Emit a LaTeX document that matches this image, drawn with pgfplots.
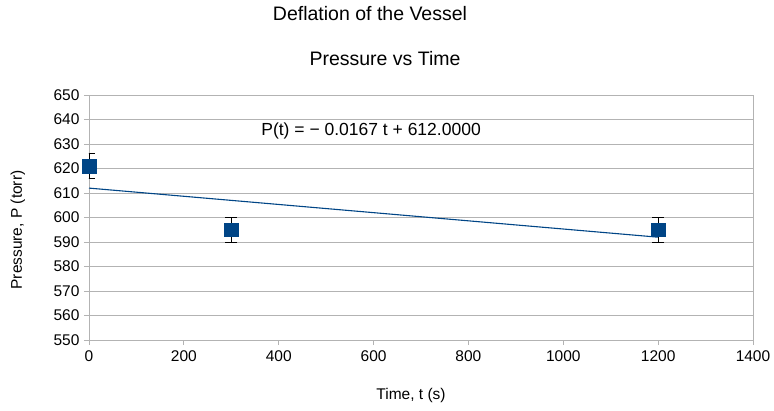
\documentclass[border=0pt]{standalone}
\usepackage{pgfplots}
\pgfplotsset{compat=1.18}
\usepackage{fontspec}
\setmainfont{Liberation Sans}
\definecolor{lobase}{HTML}{004586}
\definecolor{grd}{HTML}{B3B3B3}
\pgfplotstableread{
t    p    e
0    621  5
300  595  5
1200 595  5
}\pdata
\begin{document}
\begin{tikzpicture}
\useasboundingbox (-89pt,-70pt) rectangle (685pt,340pt);
\begin{axis}[
    scale only axis,
    width=664pt,
    height=245pt,
    xmin=0, xmax=1400,
    ymin=550, ymax=650,
    xtick distance=200,
    ytick distance=10,
    ymajorgrids,
    grid style={grd, line width=0.8pt},
    axis line style={grd, line width=0.8pt},
    tick style={grd, line width=0.8pt},
    tick align=outside,
    major tick length=5pt,
    xtick pos=bottom, ytick pos=left,
    xticklabel={\pgfmathprintnumber[assume math mode=true,1000 sep={}]{\tick}},
    yticklabel={\pgfmathprintnumber[assume math mode=true]{\tick}},
    yticklabel style={font=\fontsize{15.5}{17}\selectfont, xshift=-1pt},
    xticklabel style={font=\fontsize{15.5}{17}\selectfont, yshift=-2pt},
    xlabel={Time, t (s)},
    ylabel={Pressure, P (torr)},
    label style={font=\fontsize{15.5}{17}\selectfont},
    xlabel style={at={(axis description cs:0.485,0)}, anchor=center, yshift=-55pt},
    ylabel style={at={(axis description cs:-0.107,0.449)}, anchor=center},
]
% linear trend line
\addplot[lobase, line width=1.1pt] coordinates {(0,612.0) (1200,591.96)};
% measured pressures
\addplot[only marks, mark=square*, mark size=6.8pt,
         mark options={fill=lobase, draw=lobase}] table[x=t, y=p] {\pdata};
% +-5 torr error bars, drawn over the markers
\addplot[draw=none, mark=none,
         error bars/.cd, y dir=both, y explicit,
         error bar style={draw=black, line width=0.9pt},
         error mark options={rotate=90, mark size=6pt, draw=black, line width=0.9pt}]
    table[x=t, y=p, y error=e] {\pdata};
\node[anchor=west, font=\fontsize{17.5}{19}\selectfont] at (axis cs:356,635.3)
    {P(t) = − 0.0167 t + 612.0000};
\end{axis}
\node[font=\fontsize{19.5}{22}\selectfont] at (281pt,326pt) {Deflation of the Vessel};
\node[font=\fontsize{19.5}{22}\selectfont] at (296pt,281pt) {Pressure vs Time};
\end{tikzpicture}
\end{document}
